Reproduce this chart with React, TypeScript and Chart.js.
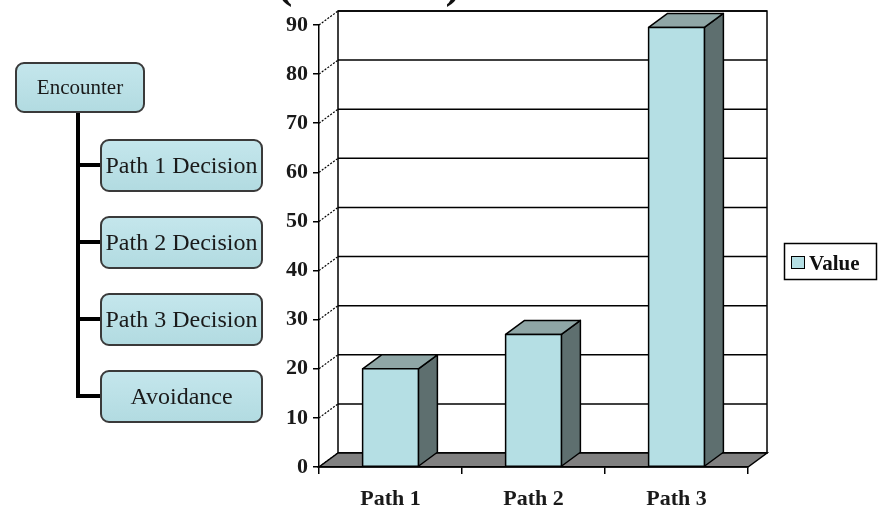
import { useEffect, useRef } from "react";
import { Chart, registerables } from "chart.js";

Chart.register(...registerables);

// ---- data ----
const categories = ["Path 1", "Path 2", "Path 3"];
const values = [20, 27, 89.5];
const seriesLabel = "Value";
const yMin = 0;
const yMax = 90;
const yStep = 10;
const titleText = "(Percent)";
const flowRoot = "Encounter";
const flowNodes = ["Path 1 Decision", "Path 2 Decision", "Path 3 Decision", "Avoidance"];

// ---- style ----
const DX = 19;
const DY = -14;
const FRONT = "#b5dfe4";
const TOP = "#8fa6a6";
const SIDE = "#5e6f6f";
const FLOOR = "#808080";
const SERIF = "'Liberation Serif', 'Times New Roman', serif";

function line(ctx: CanvasRenderingContext2D, x1: number, y1: number, x2: number, y2: number) {
  ctx.beginPath();
  ctx.moveTo(x1, y1);
  ctx.lineTo(x2, y2);
  ctx.stroke();
}

function poly(ctx: CanvasRenderingContext2D, pts: number[][], fill: string) {
  ctx.beginPath();
  ctx.moveTo(pts[0][0], pts[0][1]);
  for (let i = 1; i < pts.length; i++) ctx.lineTo(pts[i][0], pts[i][1]);
  ctx.closePath();
  ctx.fillStyle = fill;
  ctx.fill();
  ctx.stroke();
}

const threeD = {
  id: "threeD",
  beforeDraw(chart: any) {
    const ctx: CanvasRenderingContext2D = chart.ctx;
    const { left: L, right: R, top: T, bottom: B } = chart.chartArea;
    const ys = chart.scales.y;
    ctx.save();
    ctx.fillStyle = "#fff";
    ctx.fillRect(0, 0, chart.width, chart.height);
    ctx.strokeStyle = "#000";
    ctx.lineWidth = 1.5;
    // back wall
    ctx.strokeRect(L + DX, T + DY, R - L, B - T);
    ys.ticks.forEach((t: any) => {
      const py = ys.getPixelForValue(t.value) + DY;
      line(ctx, L + DX, py, R + DX, py);
    });
    // side wall diagonals
    ctx.lineWidth = 1.2;
    ctx.setLineDash([2, 1.5]);
    ys.ticks.forEach((t: any) => {
      const py = ys.getPixelForValue(t.value);
      line(ctx, L, py, L + DX, py + DY);
    });
    ctx.setLineDash([]);
    // floor
    ctx.lineWidth = 1.5;
    poly(ctx, [[L, B], [R, B], [R + DX, B + DY], [L + DX, B + DY]], FLOOR);
    ctx.restore();
  },
  afterDatasetsDraw(chart: any) {
    const ctx: CanvasRenderingContext2D = chart.ctx;
    const meta = chart.getDatasetMeta(0);
    ctx.save();
    ctx.strokeStyle = "#000";
    ctx.lineWidth = 1.5;
    ctx.lineJoin = "round";
    meta.data.forEach((bar: any) => {
      const { x, y, base, width } = bar.getProps(["x", "y", "base", "width"], true);
      const xl = x - width / 2;
      const xr = x + width / 2;
      poly(ctx, [[xr, y], [xr + DX, y + DY], [xr + DX, base + DY], [xr, base]], SIDE);
      poly(ctx, [[xl, y], [xl + DX, y + DY], [xr + DX, y + DY], [xr, y]], TOP);
      poly(ctx, [[xl, y], [xr, y], [xr, base], [xl, base]], FRONT);
    });
    ctx.restore();
  },
  afterDraw(chart: any) {
    const ctx: CanvasRenderingContext2D = chart.ctx;
    ctx.save();
    // title (cut off at the top of the picture)
    ctx.fillStyle = "#111";
    ctx.font = `bold 47px ${SERIF}`;
    ctx.textAlign = "center";
    ctx.textBaseline = "alphabetic";
    ctx.fillText(titleText, 369, -3);
    // legend
    const bx = 784.5, by = 243.5, bw = 92, bh = 36;
    ctx.fillStyle = "#fff";
    ctx.fillRect(bx, by, bw, bh);
    ctx.strokeStyle = "#000";
    ctx.lineWidth = 1.5;
    ctx.strokeRect(bx, by, bw, bh);
    ctx.fillStyle = FRONT;
    ctx.fillRect(791, 256, 14, 13);
    ctx.lineWidth = 1;
    ctx.strokeRect(791.5, 256.5, 13, 12);
    ctx.fillStyle = "#111";
    ctx.font = `bold 21px ${SERIF}`;
    ctx.textAlign = "left";
    ctx.fillText(chart.data.datasets[0].label, 809, 270);
    ctx.restore();
  },
};

const boxStyle = (left: number, top: number, w: number, h: number, fs: number): any => ({
  position: "absolute",
  left,
  top,
  width: w,
  height: h,
  boxSizing: "border-box",
  border: "2px solid #3a3a3a",
  borderRadius: 9,
  background: "linear-gradient(#c4e6ec, #b2dbe1)",
  display: "flex",
  alignItems: "center",
  justifyContent: "center",
  fontFamily: SERIF,
  fontSize: fs,
  color: "#1a1a1a",
  whiteSpace: "nowrap",
});

export default function App() {
  const ref = useRef<HTMLCanvasElement | null>(null);
  useEffect(() => {
    if (!ref.current) return;
    const chart = new Chart(ref.current, {
      type: "bar",
      data: {
        labels: categories,
        datasets: [
          {
            label: seriesLabel,
            data: values,
            backgroundColor: "rgba(0,0,0,0)",
            borderWidth: 0,
            categoryPercentage: 1,
            barPercentage: 0.39,
          },
        ],
      },
      options: {
        responsive: false,
        animation: false,
        layout: { padding: { left: 259, right: 130, top: 25, bottom: 0 }, autoPadding: false } as any,
        plugins: { legend: { display: false }, tooltip: { enabled: false }, title: { display: false } },
        scales: {
          x: {
            afterFit: (s: any) => { s.height = 48; },
            grid: { display: true, drawOnChartArea: false, drawTicks: true, tickLength: 7, color: "#000", lineWidth: 1.5 },
            border: { display: true, color: "#000", width: 1.5 },
            ticks: { color: "#1a1a1a", padding: 12, font: { family: SERIF, weight: "bold", size: 22 } },
          },
          y: {
            min: yMin,
            max: yMax,
            afterFit: (s: any) => { s.width = 60; },
            grid: { display: true, drawOnChartArea: false, drawTicks: true, tickLength: 6, color: "#000", lineWidth: 1.5 },
            border: { display: true, color: "#000", width: 1.5 },
            ticks: { stepSize: yStep, color: "#1a1a1a", padding: 5, font: { family: SERIF, weight: "bold", size: 22 } },
          },
        },
      },
      plugins: [threeD],
    });
    return () => chart.destroy();
  }, []);

  const nodeTops = [139, 216, 293, 370];
  return (
    <div style={{ position: "fixed", left: 0, top: 0, width: 878, height: 515, background: "#fff", overflow: "hidden" }}>
      <canvas ref={ref} width={878} height={515} style={{ position: "absolute", left: 0, top: 0 }} />
      <div style={boxStyle(15, 62, 130, 51, 21)}>{flowRoot}</div>
      <div style={{ position: "absolute", left: 76, top: 113, width: 4, height: 282, background: "#000" }} />
      {flowNodes.map((n, i) => (
        <div key={"c" + i} style={{ position: "absolute", left: 76, top: nodeTops[i] + 24, width: 26, height: 4, background: "#000" }} />
      ))}
      {flowNodes.map((n, i) => (
        <div key={n} style={boxStyle(100, nodeTops[i], 163, 53, 24)}>{n}</div>
      ))}
    </div>
  );
}
